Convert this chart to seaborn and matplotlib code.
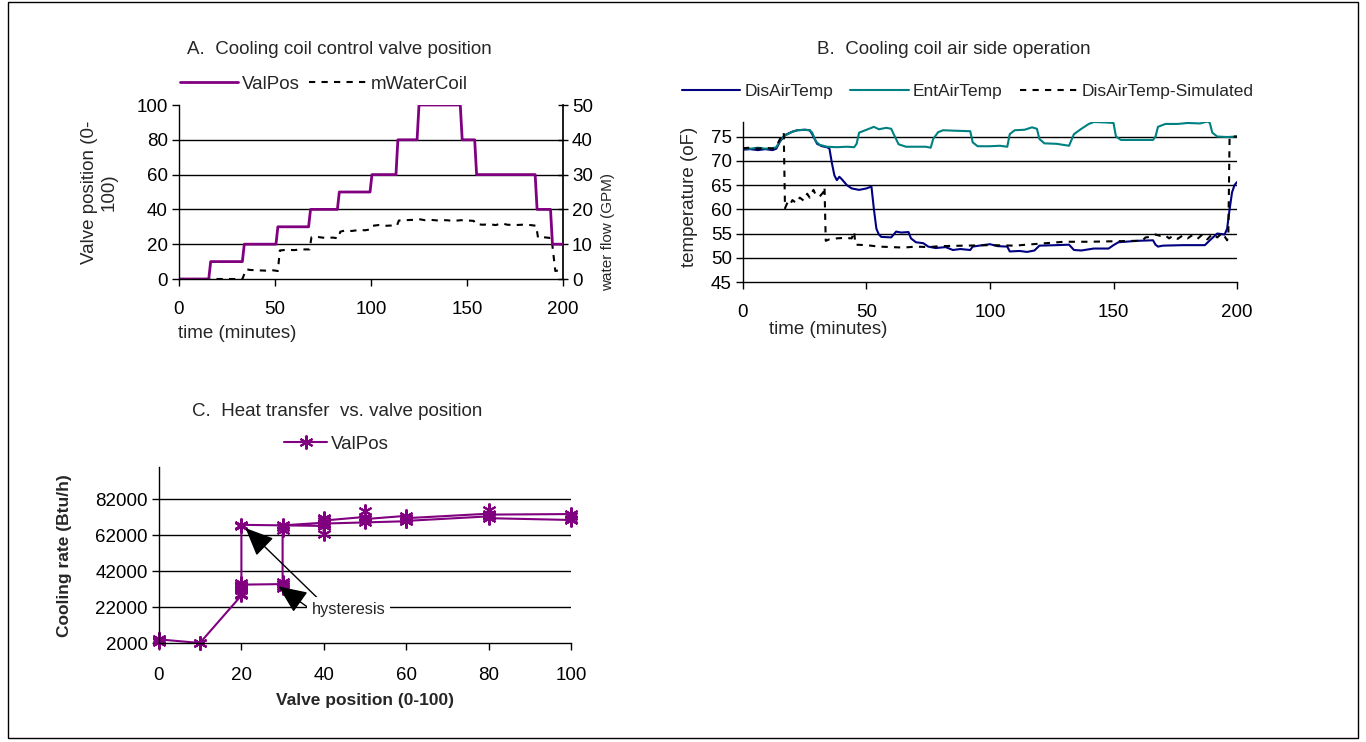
import matplotlib
matplotlib.use("Agg")
import numpy as np
import pandas as pd
import seaborn as sns
import matplotlib.pyplot as plt
from matplotlib.patches import Rectangle

# --- dane ---
# A: pozycja zaworu (min, %) i przeplyw wody (min, GPM)
valve_steps = [(0, 0), (15.5, 0), (16.5, 10), (33, 10), (34, 20), (50.5, 20), (51.5, 30),
               (67.5, 30), (68.5, 40), (82.5, 40), (83.5, 50), (99.5, 50), (100.5, 60),
               (113, 60), (114, 80), (124, 80), (125, 100), (146.5, 100), (147.5, 80),
               (154, 80), (155, 60), (185.5, 60), (186.5, 40), (193.5, 40), (194.5, 20),
               (200, 20)]
water_flow = [(0, 0), (33, 0), (35, 2.8), (37, 2.6), (41, 2.5), (45, 2.4), (49, 2.5),
              (51.5, 2.3), (52.5, 8.2), (56, 8.4), (60, 8.3), (64, 8.5), (68, 8.5),
              (69, 12.0), (72, 12.1), (76, 11.8), (80, 11.9), (83, 11.7), (84, 13.6),
              (87, 14.0), (90, 13.8), (94, 14.1), (97, 14.0), (100, 14.3), (101, 15.3),
              (104, 15.5), (108, 15.3), (112, 15.4), (113.5, 15.3), (114.5, 16.8),
              (118, 16.9), (122, 17.0), (125, 17.2), (128, 16.9), (131, 17.0), (135, 16.8),
              (139, 16.9), (143, 16.7), (147, 16.9), (151, 16.8), (153.5, 16.7),
              (154.5, 15.8), (158, 15.6), (162, 15.7), (165, 15.5), (168, 16.0), (171, 15.6),
              (175, 15.5), (179, 15.6), (183, 15.5), (186, 15.3), (187, 11.9), (190, 12.0),
              (193, 11.8), (194, 11.9), (196, 2.3), (198, 2.5), (200, 2.4)]

# B: temperatury powietrza (min, oF)
dis_air = [(0, 72.3), (3, 72.4), (6, 72.2), (9, 72.4), (12, 72.2), (13.5, 72.5), (15, 74.0),
           (17, 75.3), (20, 76.0), (22, 76.3), (25, 76.4), (27, 76.3), (28, 75.5), (30, 73.5),
           (32, 73.0), (34, 72.8), (35, 72.5), (36, 69.5), (37, 67.0), (38, 66.0), (39, 66.7),
           (40, 66.2), (42, 65.0), (44, 64.3), (47, 64.0), (50, 64.3), (52, 64.7), (53, 60.0),
           (54, 56.0), (55, 54.8), (56, 54.3), (60, 54.2), (62, 55.4), (64, 55.2), (67, 55.3),
           (68, 54.0), (70, 53.2), (73, 53.0), (75, 52.3), (78, 52.0), (82, 52.2), (85, 51.6),
           (88, 51.8), (92, 51.6), (93, 52.3), (97, 52.6), (100, 52.8), (103, 52.4),
           (107, 52.3), (108, 51.3), (112, 51.4), (115, 51.2), (118, 51.5), (120, 52.5),
           (127, 52.6), (132, 52.7), (134, 51.6), (137, 51.5), (142, 51.9), (148, 51.9),
           (150, 52.6), (152, 53.2), (160, 53.5), (166, 53.6), (167, 52.7), (168, 52.3),
           (170, 52.5), (178, 52.6), (187, 52.6), (189, 53.6), (192, 55.0), (195, 54.8),
           (196, 56.0), (197, 60.0), (198, 63.5), (199, 65.0), (200, 65.6)]
ent_air = [(0, 72.6), (3, 72.5), (6, 72.7), (9, 72.5), (12, 72.6), (13.5, 72.8), (15, 74.2),
           (17, 75.2), (20, 76.0), (22, 76.3), (25, 76.4), (27, 76.3), (28, 75.8), (29.5, 74.0),
           (31, 73.3), (34, 72.9), (38, 72.8), (42, 72.9), (45, 72.8), (46, 73.5), (47, 75.8),
           (50, 76.4), (53, 77.0), (55, 76.5), (58, 76.8), (60, 76.6), (61, 75.5), (63, 73.4),
           (66, 72.9), (70, 72.9), (74, 72.9), (76, 72.7), (77, 74.5), (79, 75.9), (81, 76.3),
           (86, 76.2), (92, 76.1), (93, 73.8), (95, 73.0), (100, 73.0), (104, 73.1),
           (107, 72.9), (108, 75.5), (110, 76.3), (114, 76.4), (117, 76.9), (119, 76.6),
           (120, 74.5), (122, 73.6), (127, 73.5), (132, 73.1), (134, 75.5), (137, 76.6),
           (140, 77.6), (142, 78.0), (147, 77.9), (150, 77.8), (151, 75.0), (153, 74.3),
           (160, 74.3), (166, 74.3), (167, 75.0), (168, 77.0), (171, 77.6), (176, 77.6),
           (180, 77.8), (185, 77.7), (188, 78.1), (189, 77.8), (190, 75.8), (192, 75.0),
           (196, 74.9), (200, 75.0)]
dis_air_sim = [(0, 72.6), (3, 72.7), (6, 72.5), (9, 72.7), (12, 72.5), (14, 73.5), (15.5, 75.0),
               (16.5, 75.8), (17, 60.2), (18, 61.4), (19, 60.9), (20, 61.9), (21.5, 61.3),
               (23, 62.4), (24.5, 61.8), (26, 63.2), (27, 62.4), (28.5, 64.0), (29.5, 62.9),
               (31, 62.6), (32.5, 63.5), (33, 64.6), (33.5, 53.5), (35, 53.8), (38, 54.0),
               (41, 54.1), (44, 54.0), (45, 55.4), (45.5, 52.7), (50, 52.6), (55, 52.3),
               (60, 52.2), (65, 52.1), (70, 52.3), (75, 52.2), (80, 52.4), (90, 52.5),
               (100, 52.6), (110, 52.5), (120, 52.9), (130, 53.3), (140, 53.3), (150, 53.4),
               (160, 53.5), (162, 53.7), (163, 54.2), (165, 54.3), (167, 54.8), (169, 54.5),
               (171, 54.6), (172.5, 54.0), (174, 54.5), (176, 53.9), (178, 54.6), (180, 54.0),
               (182, 54.7), (184, 53.9), (186, 54.8), (188, 53.8), (190, 54.9), (192, 54.2),
               (194, 55.1), (195, 54.4), (196, 53.6), (196.5, 55.0), (197, 75.0), (200, 75.0)]

# C: moc chlodnicza vs pozycja zaworu (%, Btu/h) - kolejnosc czasowa
cool_path = [(0, 4500), (0, 2600), (0, 3600), (0, 3000), (0, 4000), (10, 2000), (10, 2200),
             (20, 28500), (20, 31500), (20, 34000), (20, 32000), (20, 35500), (20, 34500),
             (30, 34800), (30, 32500), (30, 35800), (30, 34000), (30, 66800), (30, 65000),
             (30, 67500), (40, 69000), (40, 70800), (40, 68300), (40, 71800), (40, 62700),
             (40, 70200), (50, 72200), (50, 69500), (50, 75300), (50, 71000), (60, 72800),
             (60, 71200), (60, 70000), (80, 72500), (80, 76000), (80, 73500), (100, 73800),
             (100, 71000), (100, 72800), (100, 70500), (80, 71500), (80, 74000), (60, 71500),
             (60, 69800), (40, 68500), (40, 67200), (20, 67800), (20, 67000), (20, 33000),
             (20, 29500)]

PURPLE = "#800080"
NAVY = "#000080"
TEAL = "#008080"
DASH = (0, (3, 3))
W, H = 1366, 742
FS = 13.5


def fx(x):
    return x / W


def fy(y):
    return 1 - y / H


def axes_rect(x0, y0, x1, y1):
    # piksele obrazu -> wspolrzedne figury
    return [fx(x0), fy(y1), (x1 - x0) / W, (y1 - y0) / H]


def style_axis(ax, pad_x=13):
    for s in ["top", "right"]:
        ax.spines[s].set_visible(False)
    for s in ["left", "bottom"]:
        ax.spines[s].set_color("black")
        ax.spines[s].set_linewidth(1)
    ax.tick_params(axis="both", labelsize=FS, colors="black", length=5, width=1,
                   direction="out", bottom=True, left=True)
    ax.tick_params(axis="x", pad=pad_x)
    ax.tick_params(axis="y", pad=3)
    lo, hi = ax.get_ylim()
    for v in ax.get_yticks():
        if lo < v < hi:
            ax.axhline(v, color="black", lw=1, zorder=0.5)


sns.set_theme(style="white")
plt.rcParams["font.family"] = ["Liberation Sans", "DejaVu Sans"]

fig = plt.figure(figsize=(W / 100, H / 100), dpi=100)
fig.patches.append(Rectangle((fx(8), fy(738)), 1350 / W, 736 / H, transform=fig.transFigure,
                             fill=False, edgecolor="black", lw=1))

# --- A. pozycja zaworu ---
axA = fig.add_axes(axes_rect(179, 105, 563, 279))
axA2 = axA.twinx()
df_valve = pd.DataFrame(valve_steps, columns=["time", "ValPos"])
df_flow = pd.DataFrame(water_flow, columns=["time", "mWaterCoil"])
sns.lineplot(data=df_flow, x="time", y="mWaterCoil", ax=axA2, estimator=None, sort=False,
             color="black", lw=1.5, linestyle=DASH, label="mWaterCoil", legend=False)
sns.lineplot(data=df_valve, x="time", y="ValPos", ax=axA, estimator=None, sort=False,
             color=PURPLE, lw=2, label="ValPos", legend=False)
axA.set_xlim(0, 200)
axA.set_ylim(0, 100)
axA.set_xticks(np.arange(0, 201, 50))
axA.set_yticks(np.arange(0, 101, 20))
axA2.set_ylim(0, 50)
axA2.set_yticks(np.arange(0, 51, 10))
style_axis(axA, pad_x=11)
axA2.set_zorder(axA.get_zorder() - 1)
axA.patch.set_visible(False)
for s in ["top", "left", "bottom"]:
    axA2.spines[s].set_visible(False)
axA2.spines["right"].set_color("black")
axA2.tick_params(axis="y", labelsize=FS, colors="black", length=7, width=1,
                 direction="inout", right=True, pad=3)
axA.set_xlabel("time (minutes)", fontsize=FS, va="center")
axA.xaxis.set_label_coords((237.5 - 179) / 384, (279 - 333) / 174)
axA.set_ylabel("Valve position (0-\n100)", fontsize=FS, va="center", multialignment="center")
axA.yaxis.set_label_coords((99 - 179) / 384, 0.5)
axA2.set_ylabel("water flow (GPM)", fontsize=11, va="center", rotation=90)
axA2.yaxis.set_label_coords((608 - 179) / 384, (279 - 232) / 174)
fig.text(fx(339), fy(49), "A.  Cooling coil control valve position", fontsize=FS,
         ha="center", va="center")
hA = axA.get_legend_handles_labels()
hA2 = axA2.get_legend_handles_labels()
fig.legend(hA[0] + hA2[0], hA[1] + hA2[1], loc="center left",
           bbox_to_anchor=(fx(180), fy(84)), ncol=2, frameon=False, fontsize=FS,
           handlelength=3.07, handletextpad=0.24, columnspacing=0.48,
           borderpad=0, borderaxespad=0)

# --- B. temperatury ---
axB = fig.add_axes(axes_rect(743, 122, 1237, 282))
df_dis = pd.DataFrame(dis_air, columns=["time", "temp"])
df_ent = pd.DataFrame(ent_air, columns=["time", "temp"])
df_sim = pd.DataFrame(dis_air_sim, columns=["time", "temp"])
sns.lineplot(data=df_dis, x="time", y="temp", ax=axB, estimator=None, sort=False,
             color=NAVY, lw=1.5, label="DisAirTemp", legend=False)
sns.lineplot(data=df_ent, x="time", y="temp", ax=axB, estimator=None, sort=False,
             color=TEAL, lw=1.5, label="EntAirTemp", legend=False)
sns.lineplot(data=df_sim, x="time", y="temp", ax=axB, estimator=None, sort=False,
             color="black", lw=1.5, linestyle=DASH, label="DisAirTemp-Simulated",
             legend=False)
axB.set_xlim(0, 200)
axB.set_ylim(45, 78)
axB.set_xticks(np.arange(0, 201, 50))
axB.set_yticks(np.arange(45, 76, 5))
style_axis(axB, pad_x=11)
axB.set_xlabel("time (minutes)", fontsize=FS, va="center")
axB.xaxis.set_label_coords((828 - 743) / 494, (282 - 329) / 160)
axB.set_ylabel("temperature (oF)", fontsize=FS, va="center")
axB.yaxis.set_label_coords((690 - 743) / 494, (282 - 197) / 160)
fig.text(fx(954), fy(49), "B.  Cooling coil air side operation", fontsize=FS,
         ha="center", va="center")
hB = axB.get_legend_handles_labels()
fig.legend(hB[0], hB[1], loc="center left", bbox_to_anchor=(fx(682), fy(91)), ncol=3,
           frameon=False, fontsize=12.5, handlelength=3.35, handletextpad=0.23,
           columnspacing=1.0, borderpad=0, borderaxespad=0)

# --- C. moc chlodnicza vs zawor ---
axC = fig.add_axes(axes_rect(159, 467, 571, 643))
df_cool = pd.DataFrame(cool_path, columns=["valve", "cooling"])
sns.lineplot(data=df_cool, x="valve", y="cooling", ax=axC, estimator=None, sort=False,
             color=PURPLE, lw=1.5, marker=(6, 2, 0), markersize=10, markeredgewidth=1.5,
             markeredgecolor=PURPLE, label="ValPos", legend=False)
for ln in axC.get_lines():
    ln.set_clip_on(False)
axC.set_xlim(0, 100)
axC.set_ylim(2000, 100000)
axC.set_xticks(np.arange(0, 101, 20))
axC.set_yticks(np.arange(2000, 82001, 20000))
style_axis(axC, pad_x=12)
axC.set_xlabel("Valve position (0-100)", fontsize=12.5, fontweight="bold", va="center")
axC.xaxis.set_label_coords((365.5 - 159) / 412, (643 - 700) / 176)
axC.set_ylabel("Cooling rate (Btu/h)", fontsize=12.5, fontweight="bold", va="center")
axC.yaxis.set_label_coords((64 - 159) / 412, (643 - 556) / 176)
fig.text(fx(337), fy(412), "C.  Heat transfer  vs. valve position", fontsize=FS,
         ha="center", va="center")
hC = axC.get_legend_handles_labels()
fig.legend(hC[0], hC[1], loc="center left", bbox_to_anchor=(fx(284), fy(444)),
           frameon=False, fontsize=FS, handlelength=2.3, handletextpad=0.2,
           borderpad=0, borderaxespad=0)

arrow = dict(arrowstyle="-|>,head_length=0.8,head_width=0.35", color="black", lw=1,
             mutation_scale=22, shrinkA=0, shrinkB=0)
axC.annotate("", xy=(21, 66000), xytext=(38.5, 27000), arrowprops=arrow)
axC.annotate("", xy=(29, 33500), xytext=(35.8, 22400), arrowprops=arrow)
axC.text(46, 20900, "hysteresis", fontsize=11.8, ha="center", va="center",
         bbox=dict(boxstyle="square,pad=0.3", facecolor="white", edgecolor="none"))

fig.savefig("out.png", dpi=100)
